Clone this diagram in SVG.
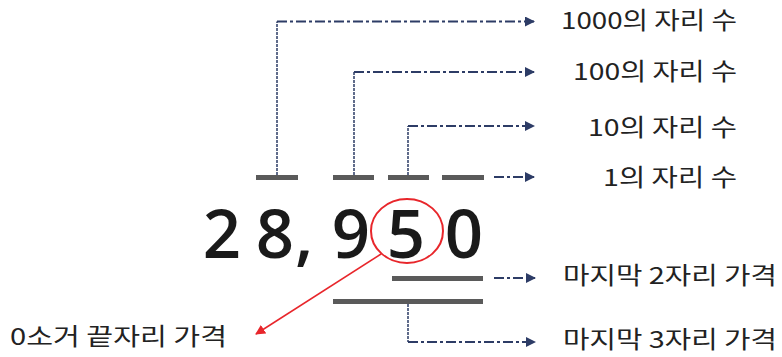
<svg xmlns="http://www.w3.org/2000/svg" width="782" height="357" viewBox="0 0 782 357">
<defs>
<style>
.lbl{font-family:"Noto Sans CJK KR","Noto Sans",sans-serif;font-size:23.5px;fill:#222;}
.big{font-family:"Open Sans","Noto Sans",sans-serif;font-size:67px;font-weight:600;fill:#1a1a1a;}
.bar{fill:#5a5a5a;}
.con{fill:none;stroke:#2d3c66;stroke-width:2;stroke-dasharray:10 3 3 3;}
.vert{fill:none;stroke:#2d3c66;stroke-width:1.5;stroke-dasharray:3 1;}
</style>
<marker id="ah" viewBox="0 0 10 10" refX="9" refY="5" markerWidth="10" markerHeight="10" markerUnits="userSpaceOnUse" orient="auto">
<path d="M0,0 L10,5 L0,10 z" fill="#2d3c66"/>
</marker>
<marker id="ahr" viewBox="0 0 10 10" refX="9" refY="5" markerWidth="10" markerHeight="10" markerUnits="userSpaceOnUse" orient="auto">
<path d="M0,0 L10,5 L0,10 z" fill="#e8262b"/>
</marker>
</defs>
<rect width="782" height="357" fill="#fff"/>
<g id="bars">
<rect class="bar" x="256" y="175" width="42" height="5"/>
<rect class="bar" x="333" y="175" width="41" height="5"/>
<rect class="bar" x="388" y="175" width="41" height="5"/>
<rect class="bar" x="442" y="175" width="42" height="5"/>
<rect class="bar" x="392" y="276" width="91" height="5"/>
<rect class="bar" x="333" y="299" width="150" height="5"/>
</g>
<g id="number">
<text class="big" x="222 275 304 351 406 464" y="258" text-anchor="middle">28,950</text>
<ellipse cx="407" cy="231" rx="36" ry="32" fill="none" stroke="#e8262b" stroke-width="2"/>
</g>
<g id="connectors">
<path class="vert" d="M277,175 V21.5"/>
<path class="con" d="M277,21.5 H534" marker-end="url(#ah)"/>
<path class="vert" d="M354,175 V72"/>
<path class="con" d="M354,72 H534" marker-end="url(#ah)"/>
<path class="vert" d="M408,175 V126"/>
<path class="con" d="M408,126 H534" marker-end="url(#ah)"/>
<path class="con" d="M494,177 H534" marker-end="url(#ah)"/>
<path class="con" d="M494,278 H535" marker-end="url(#ah)"/>
<path class="vert" d="M408,304 V342"/>
<path class="con" d="M408,342 H535" marker-end="url(#ah)"/>
<path d="M381,254 L256,334" fill="none" stroke="#e8262b" stroke-width="1.5" marker-end="url(#ahr)"/>
</g>
<g id="label-1000"><text class="lbl" x="561" y="29" textLength="176" lengthAdjust="spacingAndGlyphs">1000의 자리 수</text></g>
<g id="label-100"><text class="lbl" x="573" y="80" textLength="164" lengthAdjust="spacingAndGlyphs">100의 자리 수</text></g>
<g id="label-10"><text class="lbl" x="588" y="136" textLength="149" lengthAdjust="spacingAndGlyphs">10의 자리 수</text></g>
<g id="label-1"><text class="lbl" x="603" y="186" textLength="134" lengthAdjust="spacingAndGlyphs">1의 자리 수</text></g>
<g id="label-last2"><text class="lbl" x="563" y="284" textLength="214" lengthAdjust="spacingAndGlyphs">마지막 2자리 가격</text></g>
<g id="label-last3"><text class="lbl" x="563" y="348" textLength="214" lengthAdjust="spacingAndGlyphs">마지막 3자리 가격</text></g>
<g id="label-zero"><text class="lbl" x="10" y="345" textLength="217" lengthAdjust="spacingAndGlyphs">0소거 끝자리 가격</text></g>
</svg>
